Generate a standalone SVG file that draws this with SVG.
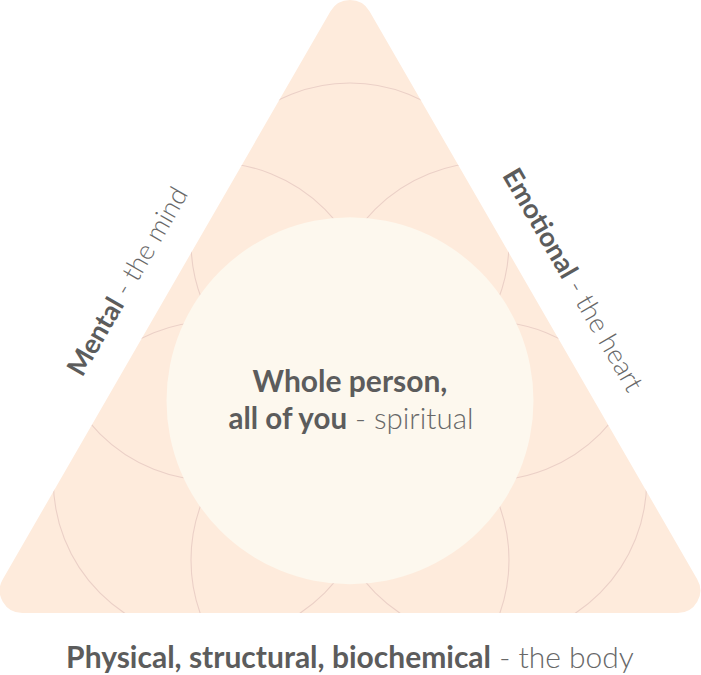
<svg xmlns="http://www.w3.org/2000/svg" width="701" height="675" viewBox="0 0 701 675">
  <defs>
    <style>
      .tri { fill: #feebdc; }
      .arc { fill: none; stroke: #ebd0c7; stroke-width: 1.1; }
      .core { fill: #fdf8ee; }
      .lbl { font-family: "Lato", "Liberation Sans", sans-serif; fill: #5c5c5c; }
      .b { font-weight: 700; }
      .l { font-weight: 300; fill: #686868; }
    </style>
    <clipPath id="triClip">
      <path d="M 330.5 11.3 A 22.5 22.5 0 0 1 369.5 11.3 L 697.2 579.2 A 22.5 22.5 0 0 1 677.7 613 L 22.3 613 A 22.5 22.5 0 0 1 2.8 579.2 Z"/>
    </clipPath>
  </defs>

  <g id="triangle">
    <path class="tri" d="M 330.5 11.3 A 22.5 22.5 0 0 1 369.5 11.3 L 697.2 579.2 A 22.5 22.5 0 0 1 677.7 613 L 22.3 613 A 22.5 22.5 0 0 1 2.8 579.2 Z"/>
  </g>

  <g id="pattern" clip-path="url(#triClip)">
    <circle class="arc" cx="350" cy="242" r="159"/>
    <circle class="arc" cx="350" cy="560" r="159"/>
    <circle class="arc" cx="212.3" cy="321.5" r="159"/>
    <circle class="arc" cx="487.7" cy="321.5" r="159"/>
    <circle class="arc" cx="212.3" cy="480.5" r="159"/>
    <circle class="arc" cx="487.7" cy="480.5" r="159"/>
  </g>

  <g id="whole-person">
    <circle class="core" cx="350" cy="400.8" r="183.5"/>
    <text class="lbl" text-anchor="middle" font-size="30" x="350" y="392"><tspan class="b">Whole person,</tspan></text>
    <text class="lbl" text-anchor="middle" font-size="29.5" x="351" y="429"><tspan class="b">all of you</tspan><tspan class="l"> - spiritual</tspan></text>
  </g>

  <g id="mental">
    <text class="lbl" text-anchor="middle" font-size="27" transform="translate(135.5 286) rotate(-60)"><tspan class="b">Mental</tspan><tspan class="l"> - the mind</tspan></text>
  </g>

  <g id="emotional">
    <text class="lbl" text-anchor="middle" font-size="27" transform="translate(565 284.5) rotate(60)"><tspan class="b">Emotional</tspan><tspan class="l"> - the heart</tspan></text>
  </g>

  <g id="physical">
    <text class="lbl" text-anchor="middle" font-size="30" x="350" y="668"><tspan class="b">Physical, structural, biochemical</tspan><tspan class="l"> - the body</tspan></text>
  </g>

  <g id="connectors"></g>
</svg>
